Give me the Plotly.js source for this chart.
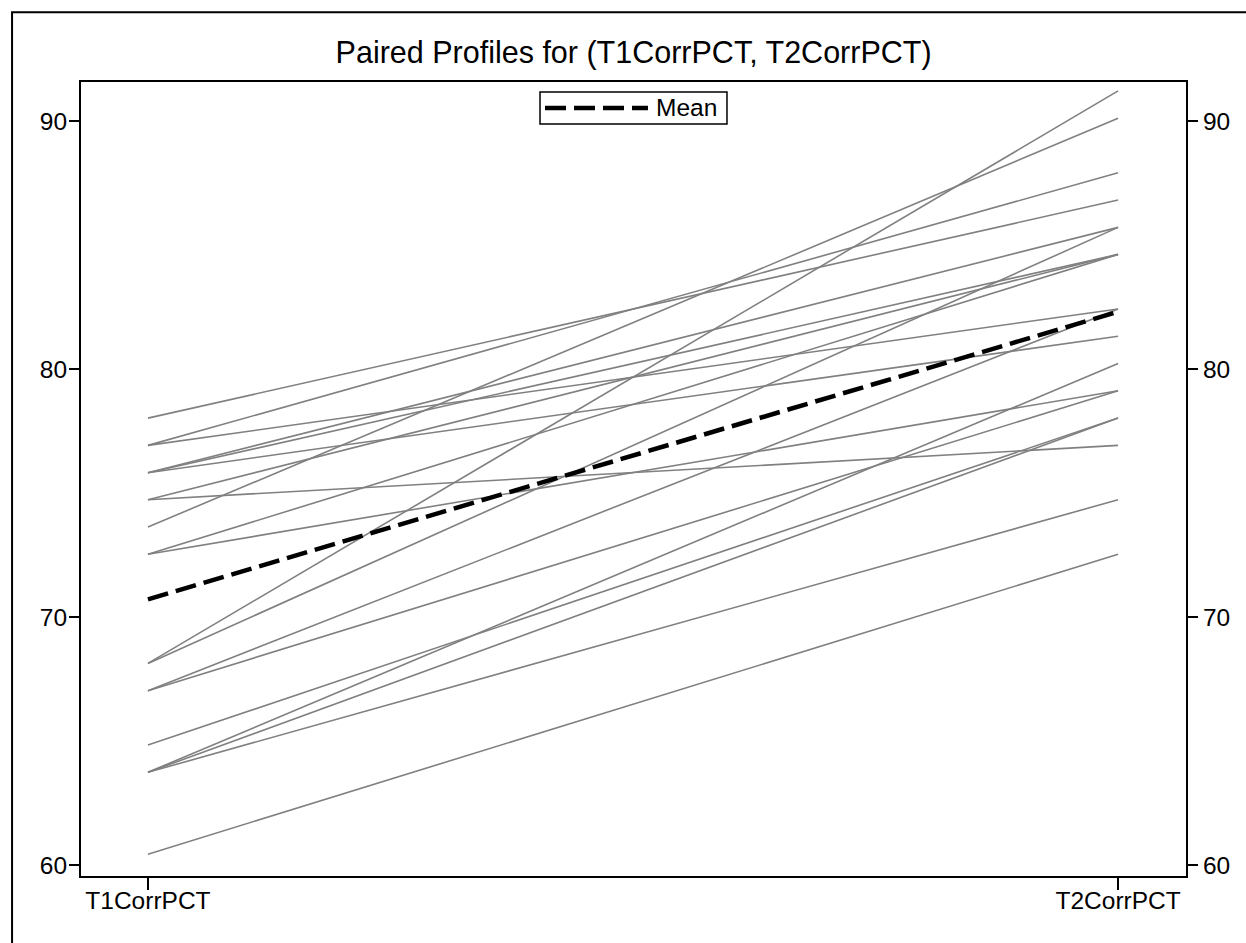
<!DOCTYPE html>
<html>
<head>
<meta charset="utf-8">
<script src="https://cdn.plot.ly/plotly-3.0.1.min.js"></script>
<style>html,body{margin:0;padding:0;background:#fff;} #chart{width:1246px;height:943px;}</style>
</head>
<body>
<div id="chart"></div>
<script>
// Data (percent correct at T1 and T2 for each subject)
const categories = ["T1CorrPCT", "T2CorrPCT"];
const t1 = [60.44, 63.74, 63.74, 63.74, 64.84, 67.03, 67.03, 68.13, 68.13, 72.53, 72.53, 73.63, 74.73, 74.73, 75.82, 75.82, 75.82, 76.92, 76.92, 78.02];
const t2 = [72.53, 80.22, 78.02, 74.73, 78.02, 82.42, 79.12, 91.21, 85.71, 84.62, 79.12, 90.11, 76.92, 84.62, 85.71, 81.32, 84.62, 87.91, 82.42, 86.81];
const yTicks = [60, 70, 80, 90];
const legendLabel = "Mean";

const xPos = [0, 1];
const traces = [];
for (let i = 0; i < t1.length; i++) {
  traces.push({
    x: xPos, y: [t1[i], t2[i]], type: 'scatter', mode: 'lines',
    line: {color: '#808080', width: 1.6}, showlegend: false, hoverinfo: 'skip'
  });
}
const meanT1 = t1.reduce((a, b) => a + b, 0) / t1.length;
const meanT2 = t2.reduce((a, b) => a + b, 0) / t2.length;
const meanDash = '21px,8px';
traces.push({
  x: xPos, y: [meanT1, meanT2], type: 'scatter', mode: 'lines', name: legendLabel,
  line: {color: '#000', width: 4.5, dash: meanDash}, showlegend: false
});
// invisible trace for right axis
traces.push({x: xPos, y: [meanT1, meanT2], yaxis: 'y2', type: 'scatter', mode: 'lines',
  line: {width: 0, color: 'rgba(0,0,0,0)'}, showlegend: false, hoverinfo: 'skip'});

const fam = '"Liberation Sans", Arial, sans-serif';
const font = {family: fam, size: 24.5, color: '#000'};
const yr = [59.56, 91.57];
const layout = {
  width: 1246, height: 943,
  margin: {l: 81, r: 60, t: 82, b: 67, pad: 0},
  paper_bgcolor: '#fff', plot_bgcolor: '#fff',
  font: font,
  title: {text: 'Paired Profiles for (T1CorrPCT, T2CorrPCT)', font: {family: fam, size: 30.5, color: '#000'},
          x: 0.5085, xanchor: 'center', y: 0.945, yanchor: 'middle', yref: 'container'},
  xaxis: {range: [-0.069, 1.070], tickvals: xPos, ticktext: categories, showgrid: false, zeroline: false,
          showline: true, linecolor: '#000', linewidth: 2, mirror: true,
          ticks: 'outside', ticklen: 12, tickwidth: 2, tickcolor: '#000', tickfont: font, ticklabelstandoff: -10},
  yaxis: {range: yr, tickvals: yTicks, showgrid: false, zeroline: false,
          showline: true, linecolor: '#000', linewidth: 2,
          ticks: 'outside', ticklen: 10, tickwidth: 2, tickcolor: '#000', tickfont: font, ticklabelstandoff: -3},
  yaxis2: {range: yr, tickvals: yTicks, overlaying: 'y', side: 'right', showgrid: false, zeroline: false,
          showline: true, linecolor: '#000', linewidth: 2,
          ticks: 'outside', ticklen: 10, tickwidth: 2, tickcolor: '#000', tickfont: font},
  shapes: [
    {type: 'rect', xref: 'paper', yref: 'paper', x0: -0.0624, x1: 1.2, y0: -0.2, y1: 1.088,
     line: {color: '#000', width: 2}, fillcolor: 'rgba(0,0,0,0)', layer: 'below'},
    // legend box
    {type: 'rect', xref: 'paper', yref: 'paper', x0: 0.4154, x1: 0.5846, y0: 0.9471, y1: 0.9874,
     line: {color: '#000', width: 1.5}, fillcolor: '#fff', layer: 'above'},
    {type: 'line', xref: 'paper', yref: 'paper', x0: 0.4199, x1: 0.5131, y0: 0.9673, y1: 0.9673,
     line: {color: '#000', width: 4.5, dash: meanDash}, layer: 'above'}
  ],
  annotations: [
    {xref: 'paper', yref: 'paper', x: 0.5186, y: 0.9673, xanchor: 'left', yanchor: 'middle',
     text: legendLabel, showarrow: false, font: font}
  ],
  showlegend: false
};
Plotly.newPlot('chart', traces, layout, {displayModeBar: false, staticPlot: true});
</script>
</body>
</html>
